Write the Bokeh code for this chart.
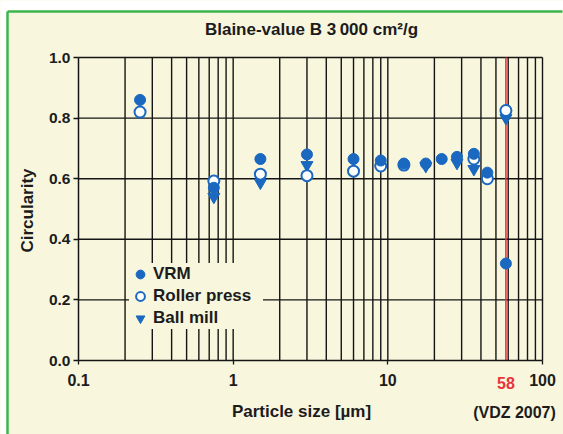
import math
from bokeh.plotting import figure
from bokeh.models import (FixedTicker, Label, Legend, LegendItem, PrintfTickFormatter)
from bokeh.embed import file_html
from bokeh.resources import INLINE

# ---------------- data ----------------
title_text = "Blaine-value B 3\u2009000 cm\u00b2/g"
x_label = "Particle size [\u00b5m]"
y_label = "Circularity"
source_note = "(VDZ 2007)"

x_ticks = [0.1, 1, 10, 100]
x_tick_labels = ["0.1", "1", "10", "100"]
y_ticks = [0.0, 0.2, 0.4, 0.6, 0.8, 1.0]
marked_size = 58
marked_label = "58"

vrm_x = [0.25, 0.75, 1.5, 3.0, 6.0, 9.0, 12.7, 17.6, 22.3, 28.0, 36.0, 44.0, 58.0]
vrm_y = [0.86, 0.57, 0.665, 0.68, 0.665, 0.66, 0.65, 0.65, 0.665, 0.672, 0.682, 0.62, 0.32]

rp_x = [0.25, 0.75, 1.5, 3.0, 6.0, 9.0, 12.7, 36.0, 44.0, 58.0]
rp_y = [0.82, 0.592, 0.615, 0.61, 0.625, 0.642, 0.645, 0.665, 0.60, 0.825]

bm_x = [0.75, 1.5, 3.0, 17.6, 28.0, 36.0, 58.0]
bm_y = [0.54, 0.587, 0.645, 0.642, 0.652, 0.632, 0.80]

# ---------------- styles / geometry ----------------
W, H = 563, 434
FL, FR, FT, FB = 78, 542, 57, 360      # plot-area edges in pixels
XMIN, XMAX = 0.1, 100
YMIN, YMAX = 0.0, 1.0

CREAM = "#f8f6dd"
GREEN = "#3cb44b"
BLUE = "#1a68bf"
RED = "#e8343c"
GRID = "#151515"
TXT = "#1c1c1c"
FONT = "Liberation Sans"

LX0, LX1 = math.log10(XMIN), math.log10(XMAX)


def xd(px):
    return 10 ** (LX0 + (px - FL) / (FR - FL) * (LX1 - LX0))


def yd(py):
    return YMIN + (FB - py) / (FB - FT) * (YMAX - YMIN)


# frame covers the whole canvas; the plot area is bounded via axis bounds
p = figure(width=W, height=H, x_axis_type="log",
           x_range=(xd(0), xd(W)), y_range=(yd(H), yd(0)),
           output_backend="svg", toolbar_location=None,
           min_border=0, background_fill_color=CREAM, border_fill_color=CREAM)
p.outline_line_color = None
p.xgrid.visible = False
p.ygrid.visible = False

# white margin outside the cream panel, with a green rule along the panel's left and top
p.quad(left=[xd(0), xd(0)], right=[xd(7), xd(W)], top=[yd(0), yd(0)], bottom=[yd(H), yd(11)],
       fill_color="white", line_color=None)
p.segment(x0=[xd(7)], x1=[xd(7)], y0=[yd(11)], y1=[yd(H)],
          line_color=GREEN, line_width=2.5)
p.segment(x0=[xd(7)], x1=[xd(W - 1)], y0=[yd(11)], y1=[yd(11)],
          line_color=GREEN, line_width=2.5)

# grid lines (all log subdivisions + 0.2 steps), drawn inside the plot area
grid_x = [m * 10 ** e for e in (-1, 0, 1) for m in range(2, 10)] + [1, 10, 100]
grid_y = [t for t in y_ticks if t > 0]
p.segment(x0=grid_x, x1=grid_x, y0=[YMIN] * len(grid_x), y1=[YMAX] * len(grid_x),
          line_color=GRID, line_width=1.4)
p.segment(x0=[XMIN] * len(grid_y), x1=[XMAX] * len(grid_y), y0=grid_y, y1=grid_y,
          line_color=GRID, line_width=1.4)
p.segment(x0=[marked_size], x1=[marked_size], y0=[YMIN], y1=[YMAX],
          line_color=RED, line_width=1.6)

# axes, pinned inside the (full-canvas) frame
p.xaxis.fixed_location = YMIN
p.xaxis.bounds = (XMIN, XMAX)
p.xaxis.ticker = FixedTicker(ticks=x_ticks)
p.xaxis.major_label_overrides = dict(zip(x_ticks, x_tick_labels))
p.xaxis.major_label_text_font_size = "16px"
p.xaxis.major_label_standoff = 9
p.xaxis.major_tick_out = 4
p.yaxis.fixed_location = XMIN
p.yaxis.bounds = (YMIN, YMAX)
p.yaxis.ticker = FixedTicker(ticks=y_ticks)
p.yaxis.formatter = PrintfTickFormatter(format="%.1f")
p.yaxis.major_label_text_font_size = "15.5px"
p.yaxis.major_label_standoff = 3
p.yaxis.major_tick_out = 5
for ax in (p.xaxis, p.yaxis):
    ax.minor_tick_line_color = None
    ax.major_tick_in = 0
    ax.axis_line_color = GRID
    ax.axis_line_width = 1.5
    ax.major_tick_line_color = GRID
    ax.major_tick_line_width = 1.3
    ax.major_label_text_font = FONT
    ax.major_label_text_font_style = "bold"
    ax.major_label_text_color = TXT

# data
r_bm = p.scatter(bm_x, bm_y, marker="inverted_triangle", size=12, color=BLUE)
r_rp = p.scatter(rp_x, rp_y, marker="circle", size=11, fill_color="white",
                 line_color=BLUE, line_width=2)
r_vrm = p.scatter(vrm_x, vrm_y, marker="circle", size=11, color=BLUE)

legend = Legend(items=[LegendItem(label="VRM", renderers=[r_vrm]),
                       LegendItem(label="Roller press", renderers=[r_rp]),
                       LegendItem(label="Ball mill", renderers=[r_bm])],
                location=(129, H - 329))
legend.background_fill_color = CREAM
legend.background_fill_alpha = 1.0
legend.border_line_color = None
legend.label_text_font = FONT
legend.label_text_font_style = "bold"
legend.label_text_font_size = "17px"
legend.label_text_color = TXT
legend.glyph_width = 22
legend.glyph_height = 22
legend.label_height = 21
legend.label_width = 110
legend.spacing = 0
legend.padding = 4
legend.margin = 0
legend.label_standoff = 2
p.add_layout(legend)


def add_text(px, py, text, size="17px", color=TXT, angle=0.0):
    p.add_layout(Label(x=xd(px), y=yd(py), text=text,
                       text_font=FONT, text_font_style="bold",
                       text_font_size=size, text_color=color, angle=angle,
                       text_align="center", text_baseline="middle"))


p.add_layout(Label(x=marked_size, y=yd(382), text=marked_label, text_font=FONT,
                   text_font_style="bold", text_font_size="16px", text_color=RED,
                   text_align="center", text_baseline="middle"))
add_text(311, 29, title_text, size="17px")
add_text(301, 411, x_label, size="17px")
add_text(514, 412, source_note, size="16px")
add_text(27, 210, y_label, size="17px", angle=math.pi / 2)

open("out.html", "w").write(file_html(p, INLINE))
